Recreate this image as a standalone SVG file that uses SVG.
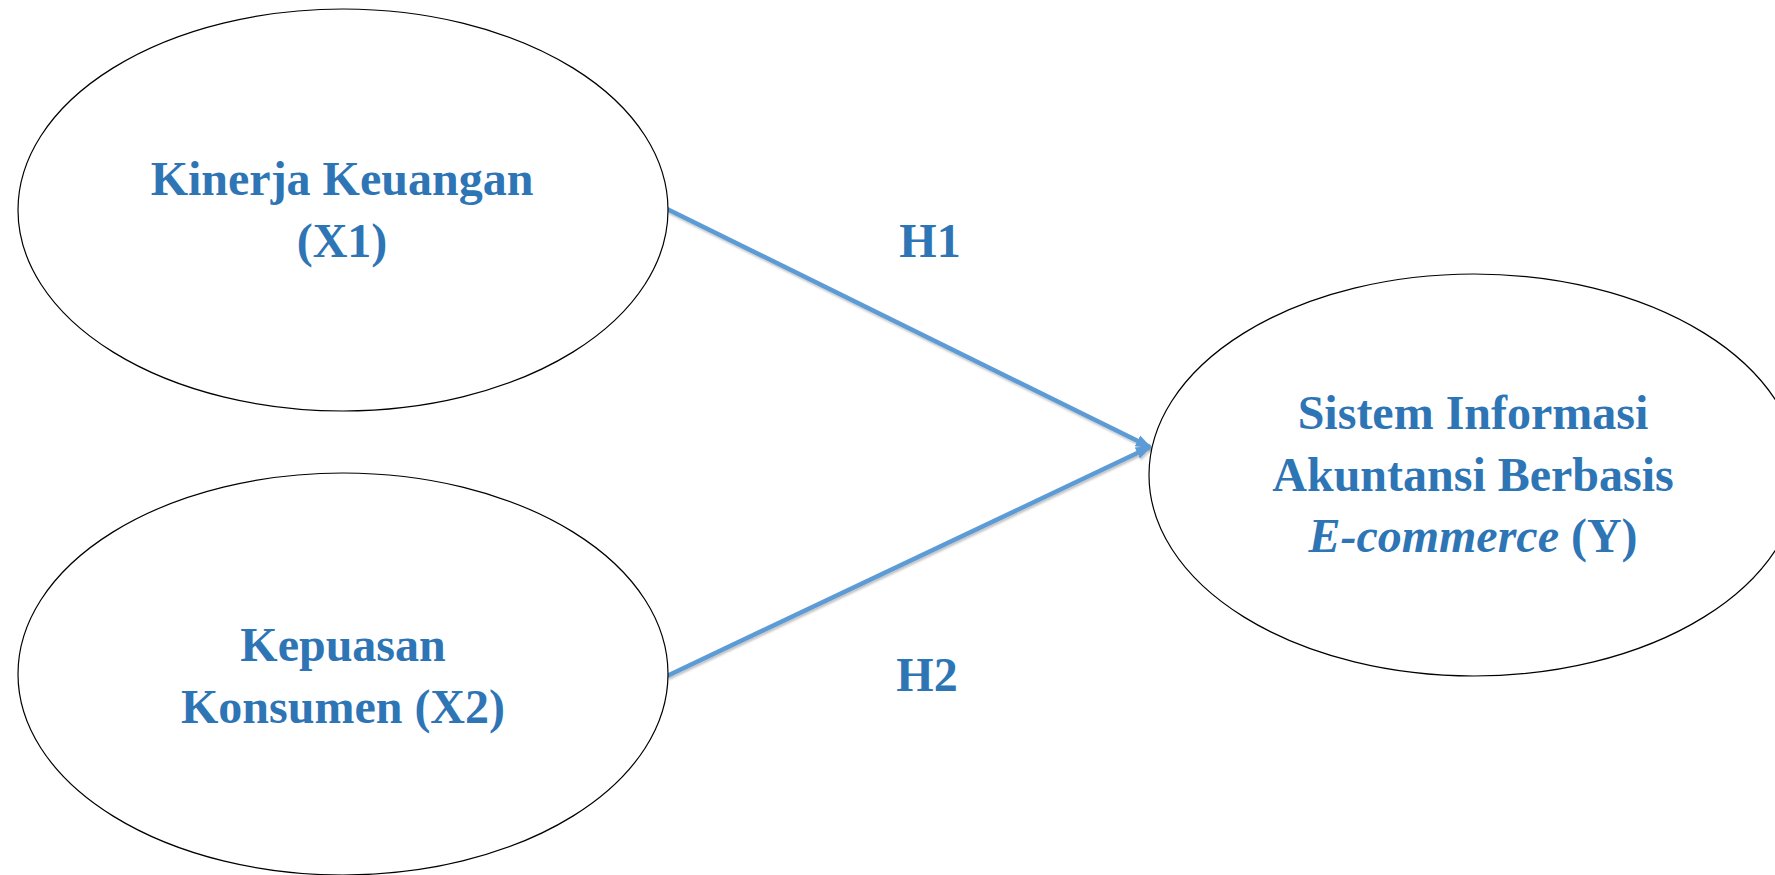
<svg xmlns="http://www.w3.org/2000/svg" width="1775" height="875" viewBox="0 0 1775 875">
<defs>
<style>
.node ellipse{fill:#ffffff;stroke:#000000;stroke-width:1.2}
.lbl{font-family:"Liberation Serif","Times New Roman",serif;font-weight:bold;font-size:48px;fill:#2E75B6;text-anchor:middle}
.conn{stroke:#5B9BD5;stroke-width:4.5;fill:none;marker-end:url(#arr);filter:url(#sh)}
</style>
<marker id="arr" markerUnits="userSpaceOnUse" markerWidth="16" markerHeight="16" viewBox="0 0 16 16" refX="14" refY="8" orient="auto">
<path d="M0,2 L16,8 L0,14 Z" fill="#5B9BD5"/>
</marker>
<filter id="sh" x="-10%" y="-10%" width="120%" height="130%">
<feDropShadow dx="1" dy="2" stdDeviation="1.2" flood-color="#000000" flood-opacity="0.25"/>
</filter>
</defs>
<rect width="1775" height="875" fill="#ffffff"/>
<g id="connectors">
<line class="conn" x1="667" y1="209" x2="1150" y2="447"/>
<line class="conn" x1="667" y1="676" x2="1150" y2="447"/>
</g>
<g id="node-x1" class="node">
<ellipse cx="343" cy="210" rx="325" ry="201"/>
<text class="lbl" x="342" y="195">Kinerja Keuangan</text>
<text class="lbl" x="342" y="257">(X1)</text>
</g>
<g id="node-x2" class="node">
<ellipse cx="343" cy="674" rx="325" ry="201"/>
<text class="lbl" x="343" y="661">Kepuasan</text>
<text class="lbl" x="343" y="723">Konsumen (X2)</text>
</g>
<g id="node-y" class="node">
<ellipse cx="1474" cy="475" rx="325" ry="201"/>
<text class="lbl" x="1473" y="429">Sistem Informasi</text>
<text class="lbl" x="1473" y="491">Akuntansi Berbasis</text>
<text class="lbl" x="1473" y="552"><tspan font-style="italic">E-commerce</tspan> (Y)</text>
</g>
<g id="labels">
<text class="lbl" x="930" y="257">H1</text>
<text class="lbl" x="927" y="691">H2</text>
</g>
</svg>
